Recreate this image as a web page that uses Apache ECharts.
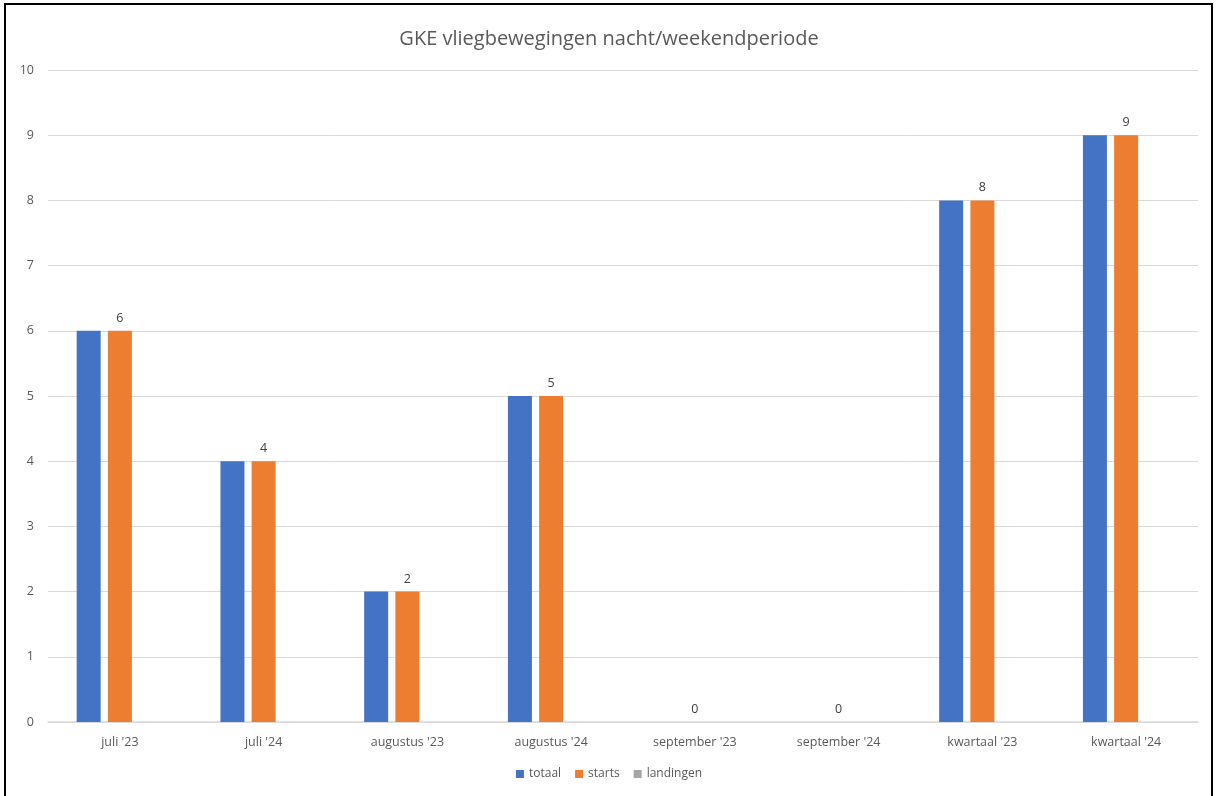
<!DOCTYPE html>
<html><head><meta charset="utf-8">
<script src="https://cdn.jsdelivr.net/npm/echarts@6/dist/echarts.min.js"></script>
<style>html,body{margin:0;padding:0;background:#fff}#c{width:1218px;height:796px}</style>
</head><body><div id="c"></div>
<script>
const categories = ["juli '23","juli '24","augustus '23","augustus '24","september '23","september '24","kwartaal '23","kwartaal '24"];
const totaal = [6,4,2,5,0,0,8,9];
const starts = [6,4,2,5,0,0,8,9];
const landingen = [0,0,0,0,0,0,0,0];
const yTicks = {min:0,max:10,interval:1};
const FONT = "Open Sans";
const chart = echarts.init(document.getElementById('c'));
chart.setOption({
  animation:false,
  textStyle:{fontFamily:FONT},
  title:{text:'GKE vliegbewegingen nacht/weekendperiode',left:'center',top:24,
    textStyle:{fontFamily:FONT,fontSize:20,fontWeight:'normal',color:'#595959'}},
  graphic:[{type:'rect',shape:{x:5,y:4,width:1207,height:800},style:{fill:'none',stroke:'#000',lineWidth:2},silent:true}],
  legend:{bottom:11,left:'center',itemWidth:8,itemHeight:8,itemGap:14,icon:'rect',
    textStyle:{fontFamily:FONT,fontSize:12,color:'#595959'}},
  grid:{left:48,right:20,top:70,bottom:74},
  xAxis:{type:'category',data:categories,
    axisLine:{lineStyle:{color:'#d9d9d9',width:1.5}},axisTick:{show:false},
    axisLabel:{color:'#595959',fontSize:12.5,margin:14,fontFamily:FONT}},
  yAxis:{type:'value',min:yTicks.min,max:yTicks.max,interval:yTicks.interval,
    axisLine:{show:false},axisTick:{show:false},
    splitLine:{lineStyle:{color:'#d9d9d9'}},
    axisLabel:{color:'#595959',fontSize:12.5,margin:14,fontFamily:FONT}},
  series:[
    {name:'totaal',type:'bar',data:totaal,barWidth:24,barGap:'30%',itemStyle:{color:'#4472C4'}},
    {name:'starts',type:'bar',data:starts,barWidth:24,barGap:'30%',itemStyle:{color:'#ED7D31'},
      label:{show:true,position:'top',distance:6,color:'#404040',fontSize:12.5,fontFamily:FONT}},
    {name:'landingen',type:'bar',data:landingen,barWidth:24,barGap:'30%',itemStyle:{color:'#A5A5A5'}}
  ]
});
</script></body></html>
